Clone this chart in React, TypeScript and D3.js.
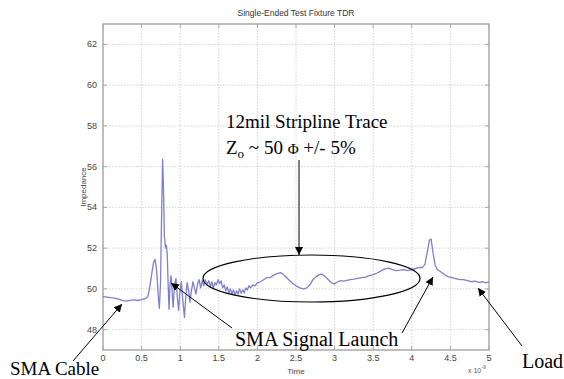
import React from "react";
import * as d3 from "d3";

// TDR trace: time in ns, impedance in ohms
const timeNs = [
  0.0, 0.05, 0.1, 0.15, 0.2, 0.25, 0.3, 0.35, 0.4, 0.45, 0.5, 0.55, 0.58, 0.6, 0.63, 0.655, 0.675, 0.695,
  0.715, 0.73, 0.745, 0.76, 0.772, 0.782, 0.795, 0.81, 0.82, 0.832, 0.845, 0.855, 0.868, 0.882, 0.895,
  0.908, 0.925, 0.945, 0.965, 0.98, 0.995, 1.015, 1.035, 1.055, 1.07, 1.09, 1.11, 1.125, 1.145, 1.165,
  1.185, 1.205, 1.225, 1.245, 1.265, 1.285, 1.305, 1.325, 1.345, 1.37, 1.39, 1.41, 1.43, 1.45, 1.47,
  1.49, 1.51, 1.53, 1.55, 1.57, 1.59, 1.61, 1.63, 1.65, 1.67, 1.69, 1.71, 1.73, 1.75, 1.77, 1.79, 1.81,
  1.83, 1.85, 1.87, 1.89, 1.91, 1.94, 1.97, 2.0, 2.04, 2.08, 2.12, 2.16, 2.2, 2.25, 2.3, 2.34, 2.38,
  2.42, 2.46, 2.5, 2.55, 2.6, 2.64, 2.68, 2.72, 2.76, 2.8, 2.84, 2.88, 2.92, 2.96, 3.0, 3.04, 3.08,
  3.12, 3.16, 3.2, 3.25, 3.3, 3.35, 3.4, 3.45, 3.5, 3.55, 3.6, 3.65, 3.7, 3.75, 3.8, 3.85, 3.9, 3.95,
  4.0, 4.05, 4.1, 4.14, 4.17, 4.2, 4.23, 4.25, 4.27, 4.3, 4.33, 4.37, 4.42, 4.47, 4.52, 4.57, 4.62,
  4.67, 4.72, 4.77, 4.82, 4.87, 4.92, 4.96, 5.0,
];
const impedance = [
  49.62, 49.6, 49.57, 49.55, 49.5, 49.44, 49.4, 49.44, 49.46, 49.43, 49.47, 49.52, 49.62, 49.95, 50.7,
  51.3, 51.45, 50.9, 49.7, 49.05, 50.3, 53.8, 56.35, 55.2, 52.6, 52.0, 52.15, 51.7, 50.1, 49.0, 50.2,
  50.65, 49.9, 49.1, 50.15, 50.5, 49.5, 48.95, 49.8, 50.35, 49.4, 48.6, 49.5, 50.3, 49.9, 49.35, 49.9,
  50.35, 50.05, 49.75, 50.25, 50.45, 50.05, 50.4, 50.15, 50.45, 50.2, 50.4, 50.1, 50.35, 50.05, 50.3,
  50.2, 50.45, 50.25, 50.4, 50.05, 50.2, 49.9, 50.1, 49.8, 50.0, 49.75, 49.95, 49.7, 49.9, 49.75, 50.0,
  49.78, 49.95, 49.8, 50.05, 49.95, 50.15, 50.05, 50.2, 50.15, 50.3, 50.35, 50.45, 50.55, 50.55, 50.65,
  50.75, 50.8, 50.7, 50.55, 50.4, 50.25, 50.15, 50.05, 50.0, 50.05, 50.2, 50.45, 50.6, 50.7, 50.72,
  50.6, 50.45, 50.3, 50.25, 50.35, 50.4, 50.38, 50.42, 50.45, 50.48, 50.52, 50.55, 50.58, 50.65, 50.7,
  50.78, 50.88, 50.98, 51.02, 50.95, 50.9, 50.92, 50.95, 50.9, 50.95, 51.0, 51.05, 51.05, 51.2, 51.8,
  52.4, 52.45, 51.9, 51.2, 50.95, 50.85, 50.7, 50.6, 50.55, 50.5, 50.45, 50.45, 50.4, 50.35, 50.38,
  50.32, 50.35, 50.3, 50.35,
];

const xTicks = [0, 0.5, 1, 1.5, 2, 2.5, 3, 3.5, 4, 4.5, 5];
const yTicks = [48, 50, 52, 54, 56, 58, 60, 62];

const W = 564;
const H = 379;
const plot = { left: 103, right: 489, top: 24, bottom: 350 };

export default function App() {
  const x = d3.scaleLinear().domain([0, 5]).range([plot.left, plot.right]);
  const y = d3.scaleLinear().domain([47, 63]).range([plot.bottom, plot.top]);

  const points: [number, number][] = timeNs.map((t, i) => [t, impedance[i]]);
  const line = d3
    .line<[number, number]>()
    .x((d) => x(d[0]))
    .y((d) => y(d[1]));

  const axisFont = "Arial, 'Liberation Sans', sans-serif";
  const serif = "'Times New Roman', 'Liberation Serif', serif";
  const frame = "#a8a8a8";
  const grid = "#d4d4d4";

  return (
    <svg
      width={W}
      height={H}
      viewBox={`0 0 ${W} ${H}`}
      style={{ position: "absolute", left: 0, top: 0, background: "#fff" }}
    >
      <defs>
        <marker
          id="head"
          viewBox="0 0 10 10"
          refX="10"
          refY="5"
          markerWidth="8"
          markerHeight="8"
          markerUnits="userSpaceOnUse"
          orient="auto"
        >
          <path d="M0,0 L10,5 L0,10 Z" fill="#000" />
        </marker>
      </defs>

      {/* title */}
      <text x={(plot.left + plot.right) / 2} y={16} textAnchor="middle" fontFamily={axisFont} fontSize={8.5} fill="#333">
        Single-Ended Test Fixture TDR
      </text>

      {/* grid */}
      {xTicks.slice(1, -1).map((t) => (
        <line key={"gx" + t} x1={x(t)} x2={x(t)} y1={plot.top} y2={plot.bottom} stroke={grid} strokeDasharray="1.5,1.5" />
      ))}
      {yTicks.map((v) => (
        <line key={"gy" + v} x1={plot.left} x2={plot.right} y1={y(v)} y2={y(v)} stroke={grid} strokeDasharray="1.5,1.5" />
      ))}

      {/* tick marks */}
      {xTicks.map((t) => (
        <g key={"tx" + t}>
          <line x1={x(t)} x2={x(t)} y1={plot.bottom} y2={plot.bottom - 4} stroke={frame} />
          <line x1={x(t)} x2={x(t)} y1={plot.top} y2={plot.top + 4} stroke={frame} />
        </g>
      ))}
      {yTicks.map((v) => (
        <g key={"ty" + v}>
          <line x1={plot.left} x2={plot.left + 4} y1={y(v)} y2={y(v)} stroke={frame} />
          <line x1={plot.right} x2={plot.right - 4} y1={y(v)} y2={y(v)} stroke={frame} />
        </g>
      ))}

      {/* frame */}
      <rect
        x={plot.left}
        y={plot.top}
        width={plot.right - plot.left}
        height={plot.bottom - plot.top}
        fill="none"
        stroke={frame}
        strokeWidth={1.5}
      />

      {/* tick labels */}
      {xTicks.map((t) => (
        <text key={"lx" + t} x={x(t)} y={plot.bottom + 11} textAnchor="middle" fontFamily={axisFont} fontSize={9} fill="#444">
          {String(t)}
        </text>
      ))}
      {yTicks.map((v) => (
        <text key={"ly" + v} x={plot.left - 6} y={y(v) + 3} textAnchor="end" fontFamily={axisFont} fontSize={9} fill="#444">
          {String(v)}
        </text>
      ))}
      <text x={468} y={373} fontFamily={axisFont} fontSize={7} fill="#555">
        x 10
        <tspan dy={-4} fontSize={5}>-9</tspan>
      </text>

      {/* axis labels */}
      <text x={(plot.left + plot.right) / 2} y={374} textAnchor="middle" fontFamily={axisFont} fontSize={8} fill="#444">
        Time
      </text>
      <text
        transform={`translate(86, ${(plot.top + plot.bottom) / 2}) rotate(-90)`}
        textAnchor="middle"
        fontFamily={axisFont}
        fontSize={8}
        fill="#444"
      >
        Impedance
      </text>

      {/* trace */}
      <path d={line(points) ?? ""} fill="none" stroke="#7f7fcf" strokeWidth={1.3} strokeLinejoin="round" />

      {/* annotations */}
      <text x={226} y={128} fontFamily={serif} fontSize={19} fill="#000">
        12mil Stripline Trace
      </text>
      <text x={226} y={154} fontFamily={serif} fontSize={19} fill="#000">
        Z
        <tspan fontSize={13} dy={4}>o</tspan>
        <tspan dy={-4}> ~ 50 </tspan>
        <tspan fontSize={15}>Φ</tspan>
        <tspan> +/- 5%</tspan>
      </text>
      <line x1={299} y1={160} x2={299} y2={255} stroke="#000" strokeWidth={1} markerEnd="url(#head)" />
      <ellipse cx={311.5} cy={278.5} rx={108.5} ry={23.5} fill="none" stroke="#000" strokeWidth={1.2} />

      <text x={235} y={346} fontFamily={serif} fontSize={20} fill="#000">
        SMA Signal Launch
      </text>
      <line x1={232} y1={328} x2={171} y2={283} stroke="#000" strokeWidth={1} markerEnd="url(#head)" />
      <line x1={402} y1={333} x2={433} y2={277} stroke="#000" strokeWidth={1} markerEnd="url(#head)" />

      <text x={10} y={375} fontFamily={serif} fontSize={19} fill="#000">
        SMA Cable
      </text>
      <line x1={73} y1={361} x2={122} y2={304} stroke="#000" strokeWidth={1} markerEnd="url(#head)" />

      <text x={522} y={368} fontFamily={serif} fontSize={20} fill="#000">
        Load
      </text>
      <line x1={522} y1={346} x2={478} y2={288} stroke="#000" strokeWidth={1} markerEnd="url(#head)" />
    </svg>
  );
}
